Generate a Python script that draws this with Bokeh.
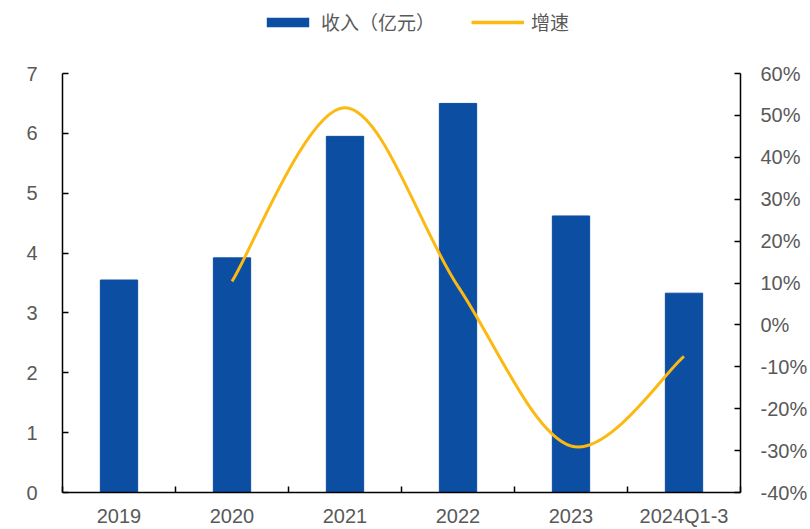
from bokeh.plotting import figure
from bokeh.layouts import column
from bokeh.models import (Range1d, LinearAxis, FixedTicker, NumeralTickFormatter,
                          Legend, LegendItem)
from bokeh.embed import file_html
from bokeh.resources import INLINE

categories = ["2019", "2020", "2021", "2022", "2023", "2024Q1-3"]
revenue = [3.55, 3.92, 5.95, 6.50, 4.62, 3.33]
growth_cats = ["2020", "2021", "2022", "2023", "2024Q1-3"]
growth = [0.104, 0.518, 0.092, -0.289, -0.075]
left_ticks = [0, 1, 2, 3, 4, 5, 6, 7]
right_ticks = [-0.4, -0.3, -0.2, -0.1, 0.0, 0.1, 0.2, 0.3, 0.4, 0.5, 0.6]
series_names = ["收入（亿元）", "增速"]

BLUE = "#0B4EA2"
GOLD = "#FBB912"
GREY = "#595959"
FONT = "Liberation Sans"
CJK = "Noto Sans CJK SC"

xpos = [i + 0.5 for i in range(len(categories))]
gx = [categories.index(c) + 0.5 for c in growth_cats]

# ---------- main chart ----------
p = figure(width=810, height=469, output_backend="svg", toolbar_location=None,
           x_range=Range1d(0, len(categories)), y_range=Range1d(0, 7),
           min_border_left=62, min_border_right=69, min_border_top=13, min_border_bottom=36)
p.outline_line_color = None
p.grid.visible = False
p.xaxis.visible = False
p.yaxis.visible = False
p.extra_y_ranges = {"g": Range1d(-0.4, 0.6)}

p.vbar(x=xpos, top=revenue, width=0.33, color=BLUE)

# smooth growth curve as cubic bezier segments (Catmull-Rom style control points)
x0, y0, x1, y1, cx0, cy0, cx1, cy1 = [], [], [], [], [], [], [], []
n = len(gx)
for i in range(n - 1):
    pa = (gx[max(i - 1, 0)], growth[max(i - 1, 0)])
    pb = (gx[i], growth[i])
    pc = (gx[i + 1], growth[i + 1])
    pd = (gx[min(i + 2, n - 1)], growth[min(i + 2, n - 1)])
    x0.append(pb[0]); y0.append(pb[1]); x1.append(pc[0]); y1.append(pc[1])
    cx0.append(pb[0] + (pc[0] - pa[0]) / 6); cy0.append(pb[1] + (pc[1] - pa[1]) / 6)
    cx1.append(pc[0] - (pd[0] - pb[0]) / 6); cy1.append(pc[1] - (pd[1] - pb[1]) / 6)
p.bezier(x0=x0, y0=y0, x1=x1, y1=y1, cx0=cx0, cy0=cy0, cx1=cx1, cy1=cy1,
         line_color=GOLD, line_width=3, y_range_name="g")

def style(ax):
    ax.axis_line_color = "black"
    ax.axis_line_width = 1.5
    ax.major_tick_line_color = "black"
    ax.major_tick_line_width = 1.5
    ax.major_tick_in = 6
    ax.major_tick_out = 0
    ax.minor_tick_in = 0
    ax.minor_tick_out = 0
    ax.major_label_text_font = FONT
    ax.major_label_text_font_size = "20px"
    ax.major_label_text_color = GREY

xa = LinearAxis(ticker=FixedTicker(ticks=xpos, minor_ticks=list(range(len(categories) + 1))),
                major_label_overrides={x: c for x, c in zip(xpos, categories)})
style(xa)
xa.major_tick_in = 0
xa.minor_tick_in = 6
xa.minor_tick_line_color = "black"
xa.minor_tick_line_width = 1.5
xa.major_label_standoff = 12
p.add_layout(xa, "below")

ya = LinearAxis(ticker=FixedTicker(ticks=left_ticks))
style(ya)
ya.major_label_standoff = 25
p.add_layout(ya, "left")

ya2 = LinearAxis(y_range_name="g", ticker=FixedTicker(ticks=right_ticks),
                 formatter=NumeralTickFormatter(format="0%"))
style(ya2)
ya2.major_label_standoff = 20
p.add_layout(ya2, "right")

# ---------- legend strip ----------
lg = figure(width=810, height=60, output_backend="svg", toolbar_location=None,
            x_range=Range1d(0, 1), y_range=Range1d(0, 1),
            min_border_left=0, min_border_right=0, min_border_top=0, min_border_bottom=0)
lg.outline_line_color = None
lg.grid.visible = False
lg.axis.visible = False
# zero-size swatch renderers: only their legend glyphs show
sw_bar = lg.vbar(x=[0.5], top=[0], bottom=[0], width=0.1, fill_color=BLUE, line_color=None)
sw_line = lg.line(x=[0.5], y=[0.5], line_color=GOLD, line_width=3.5)

legend = Legend(items=[LegendItem(label=series_names[0], renderers=[sw_bar]),
                       LegendItem(label=series_names[1], renderers=[sw_line])],
                orientation="horizontal", location=(199, 25))
legend.label_text_font = CJK
legend.label_text_font_size = "19px"
legend.label_text_color = GREY
legend.glyph_width = 53
legend.glyph_height = 12
legend.spacing = 36
legend.label_standoff = 7
legend.border_line_color = None
legend.background_fill_alpha = 0
legend.margin = 0
legend.padding = 4
lg.add_layout(legend, "center")

layout = column(lg, p, spacing=0)
open("out.html", "w").write(file_html(layout, INLINE))
